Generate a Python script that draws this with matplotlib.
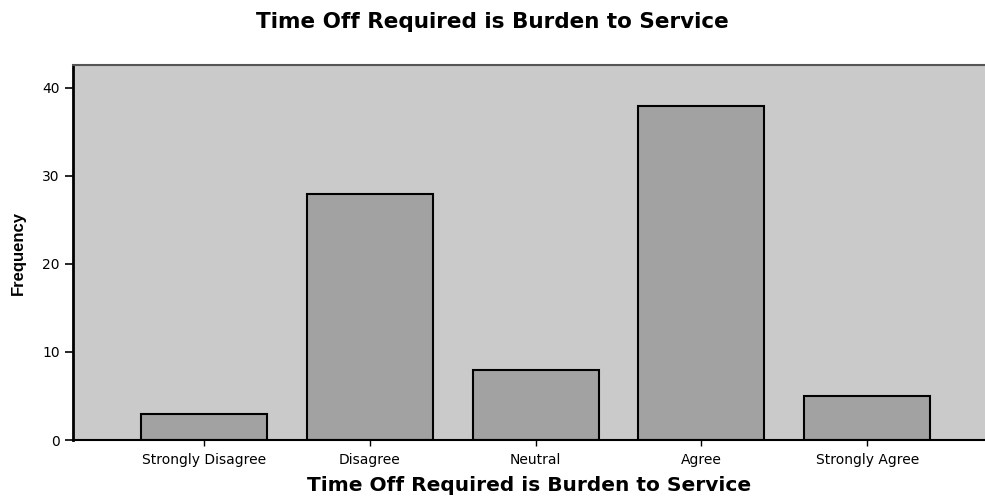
import matplotlib
matplotlib.use('Agg')
import matplotlib.pyplot as plt
import numpy as np

categories = ['Strongly Disagree', 'Disagree', 'Neutral', 'Agree', 'Strongly Agree']
frequency = [3, 28, 8, 38, 5]

plt.rcParams['font.family'] = ['DejaVu Sans']

fig = plt.figure(figsize=(9.85, 4.96), dpi=100)
ax = fig.add_axes([0.0741, 0.1129, 0.9259, 0.756])
ax.set_facecolor('#cacaca')

x = np.arange(len(categories))
ax.bar(x, frequency, width=0.76, color='#a2a2a2', edgecolor='black', linewidth=1.5)

ax.set_xlim(-0.79, 4.71)
ax.set_ylim(0, 42.6)
ax.set_yticks([0, 10, 20, 30, 40])
ax.set_xticks(x)
ax.set_xticklabels(categories, fontsize=10)
ax.tick_params(axis='y', labelsize=10, length=6, width=1.2, direction='out')
ax.tick_params(axis='x', length=4, width=1, direction='out', pad=5)

ax.spines['left'].set_linewidth(2)
ax.spines['bottom'].set_linewidth(1.5)
ax.spines['top'].set_color('#555555')
ax.spines['top'].set_linewidth(1.5)
ax.spines['right'].set_visible(False)

ax.set_ylabel('Frequency', fontsize=12, fontweight='bold', labelpad=12,
              family='Liberation Sans', fontstretch='condensed')
ax.set_xlabel('Time Off Required is Burden to Service', fontsize=14.5, fontweight='bold', labelpad=7)
fig.suptitle('Time Off Required is Burden to Service', fontsize=15.5, fontweight='bold', x=0.5, y=0.975)

fig.savefig('out.png', dpi=100)
